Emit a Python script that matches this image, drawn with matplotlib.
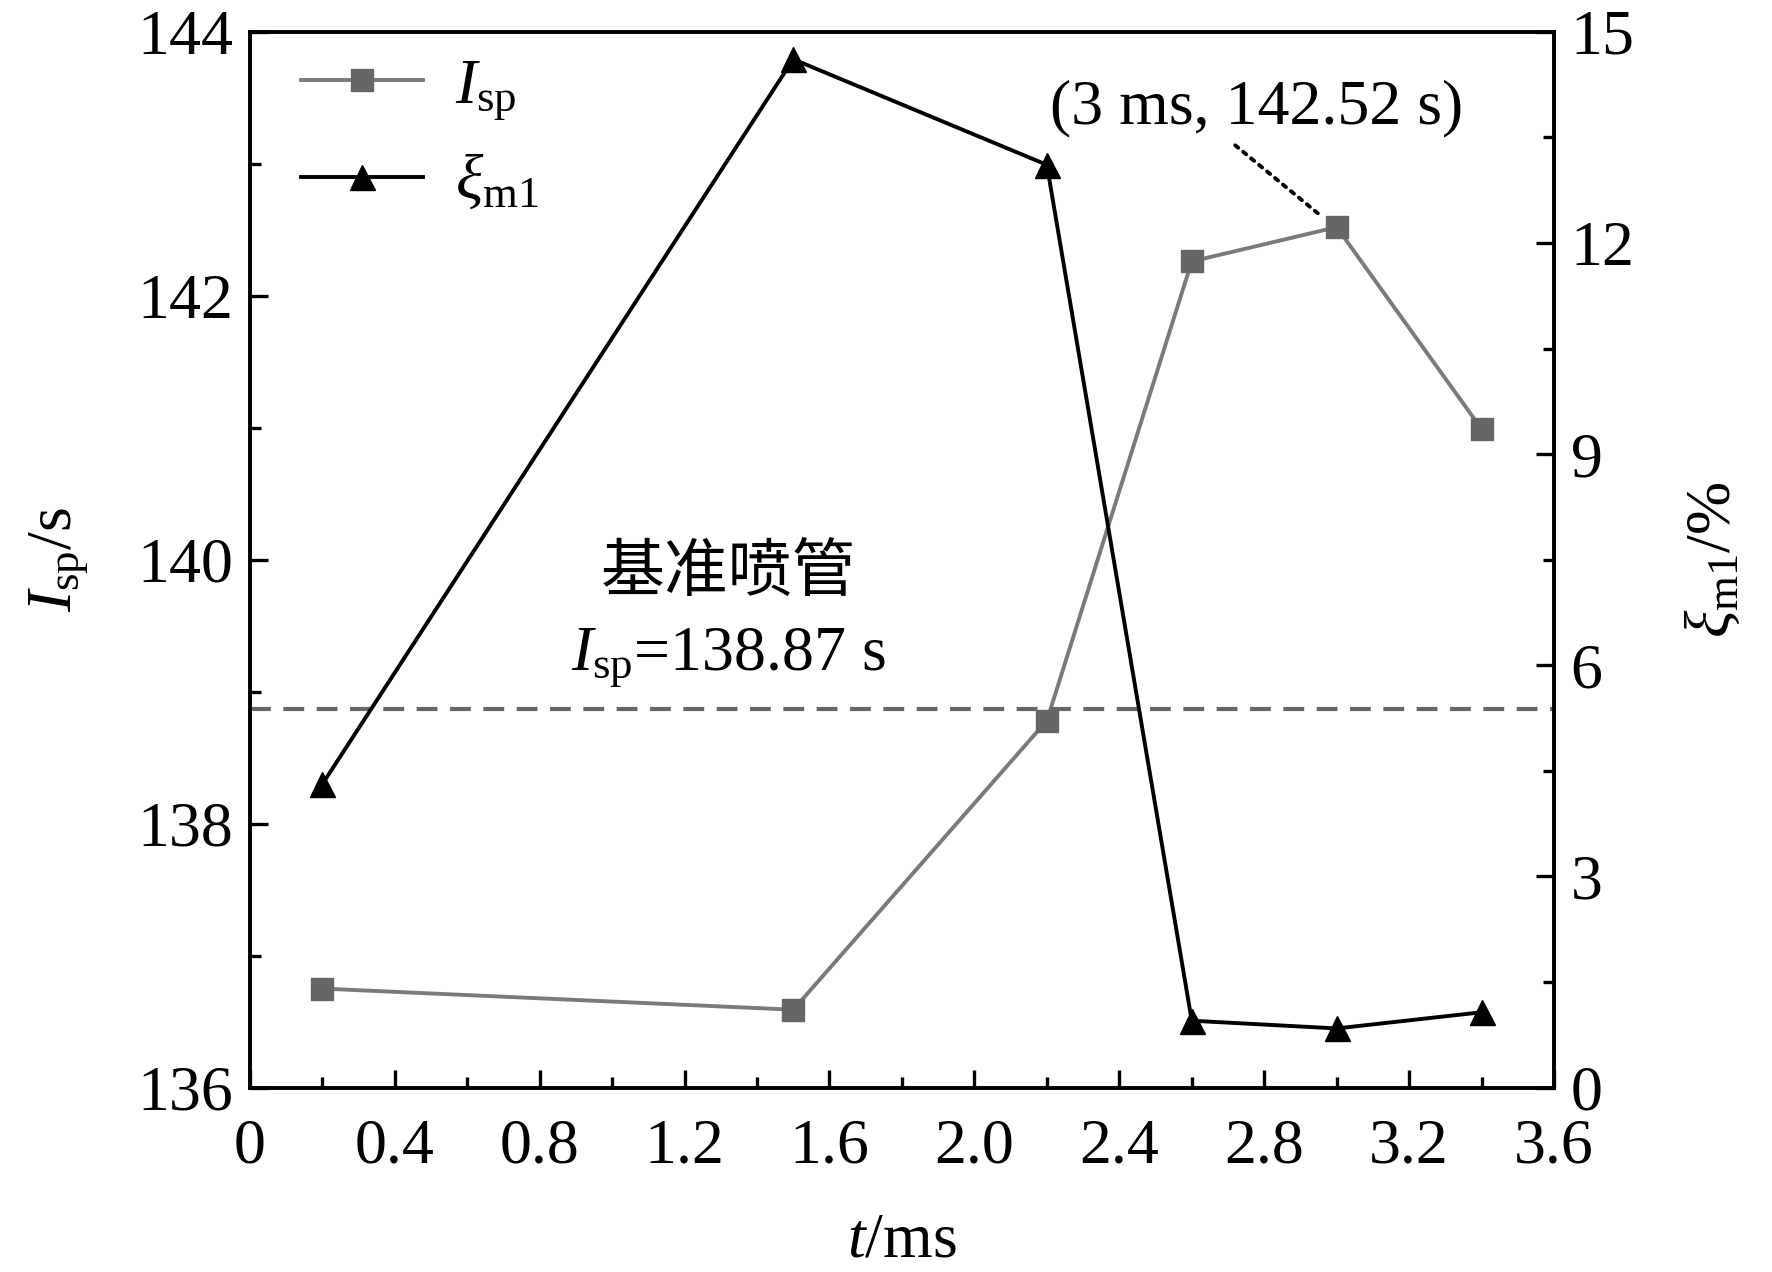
import numpy as np
import matplotlib.pyplot as plt
from matplotlib.ticker import MultipleLocator, FuncFormatter

plt.rcParams.update({'font.size': 46})
plt.rcParams['font.family'] = ['Liberation Serif', 'Noto Sans CJK SC']
plt.rcParams['mathtext.fontset'] = 'custom'
plt.rcParams['mathtext.rm'] = 'Liberation Serif'
plt.rcParams['mathtext.it'] = 'Liberation Serif:italic'

# data
t_ms = [0.2, 1.5, 2.2, 2.6, 3.0, 3.4]
isp_s = [136.75, 136.59, 138.78, 142.26, 142.52, 140.99]
xi_m1 = [4.31, 14.61, 13.11, 0.95, 0.84, 1.07]
isp_ref = 138.87

fig = plt.figure(figsize=(17.72, 12.72), dpi=100)
ax = fig.add_axes([0.141, 0.145, 0.736, 0.830])
ax2 = ax.twinx()

grey = '#7a7a7a'
l1, = ax.plot(t_ms, isp_s, '-', color=grey, lw=2.8, marker='s', ms=16,
              mfc='#666666', mec='#666666', label=r'$I_{\rm sp}$')
l2, = ax2.plot(t_ms, xi_m1, '-', color='k', lw=2.8, marker='^', ms=18,
               mfc='k', mec='k', label=r'$\xi_{\rm m1}$')
ax.axhline(isp_ref, color='#666666', lw=3, ls=(0, (5, 3)))

ax.set_xlim(0, 3.6)
ax.set_ylim(136, 144)
ax2.set_ylim(0, 15)

ax.xaxis.set_major_locator(MultipleLocator(0.4))
ax.xaxis.set_minor_locator(MultipleLocator(0.2))
ax.xaxis.set_major_formatter(FuncFormatter(lambda v, p: '0' if abs(v) < 1e-9 else f'{v:.1f}'))
ax.yaxis.set_major_locator(MultipleLocator(2))
ax.yaxis.set_minor_locator(MultipleLocator(1))
ax2.yaxis.set_major_locator(MultipleLocator(3))
ax2.yaxis.set_minor_locator(MultipleLocator(1.5))

for a in (ax, ax2):
    a.tick_params(which='both', direction='in', width=2.4, pad=12)
    a.tick_params(which='major', length=13)
    a.tick_params(which='minor', length=8)
    for s in a.spines.values():
        s.set_linewidth(2.6)
ax.tick_params(top=False, which='both')
ax.tick_params(axis='x', which='both', pad=22)

ax.set_xlabel(r'$t$/ms', labelpad=26)
ax.set_ylabel(r'$I_{\rm sp}$/s', labelpad=34)
ax2.set_ylabel(r'$\xi_{\rm m1}$/%', rotation=90, labelpad=36)

ax.legend([l1, l2], [l1.get_label(), l2.get_label()], loc='upper left',
          frameon=False, handlelength=1.9, handletextpad=0.5,
          borderaxespad=0.0, bbox_to_anchor=(0.02, 1.0), labelspacing=0.5)

ax.text(1.32, 139.9, '基准喷管', ha='center', va='center',
        family=['Noto Sans CJK SC'], fontsize=46)
ax.text(1.32, 139.26, r'$I_{\rm sp}$=138.87 s', ha='center', va='center')

# label for the peak point, with a dotted leader
ax.text(2.78, 143.42, '(3 ms, 142.52 s)', ha='center', va='center')
ax.annotate('', xy=(2.95, 142.62), xytext=(2.72, 143.14),
            arrowprops=dict(arrowstyle='-', ls=':', lw=2.8, color='k',
                            shrinkA=0, shrinkB=0))

fig.savefig('out.png', dpi=100, facecolor='w')
